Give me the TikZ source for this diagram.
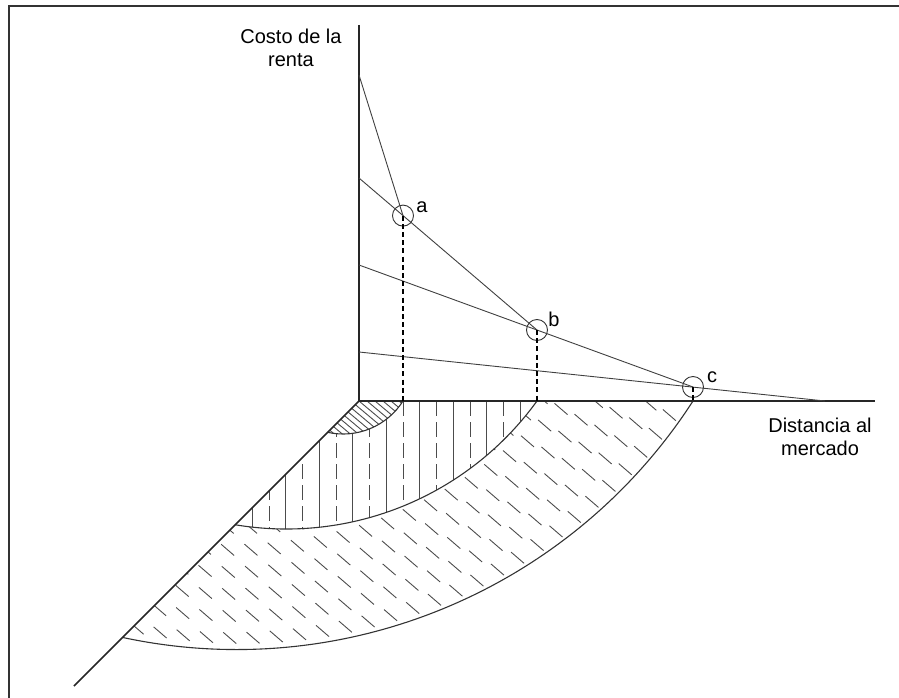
\documentclass[tikz,border=0pt]{standalone}
\usepackage{fontspec}
\setmainfont{Liberation Sans}
\usetikzlibrary{positioning}
\tikzset{
	axisline/.style={line width=0.8pt, black!85},
	rentline/.style={line width=0.45pt, black!75},
	ringline/.style={line width=0.55pt, black!80},
	dropline/.style={line width=0.6pt, black, dash pattern=on 2.5pt off 1.6pt},
	hatchline/.style={line width=0.45pt, black!70},
	pcirc/.style={draw, circle, line width=0.45pt, black!80, minimum size=10.5pt, inner sep=0pt},
	lbl/.style={font=\fontsize{10}{11.5}\selectfont, align=center, inner sep=0pt}
}

\begin{document}
\begin{tikzpicture}[x=0.5pt, y=0.5pt]
	\useasboundingbox (-359,-296) rectangle (540,401);
	% frame
	\draw[line width=0.8pt, black!80] (-350,-310) -- (-350,395) -- (560,395);

	% axes and points
	\coordinate (O) at (0,0);
	\coordinate (ytop) at (0,376);
	\coordinate (xend) at (516,0);
	\coordinate (zend) at (-285,-285);
	\coordinate (r1) at (0,326);
	\coordinate (r2) at (0,223);
	\coordinate (r3) at (0,136);
	\coordinate (r4) at (0,49);
	\coordinate (x4) at (466,0);
	\coordinate (fa) at (44,0);
	\coordinate (fb) at (178,0);
	\coordinate (fc) at (334,0);
	\coordinate (da) at (-31.3,-31.3);
	\coordinate (db) at (-123.75,-123.75);
	\coordinate (dc) at (-236,-236);

	% inner ring
	\begin{scope}
		\clip (O) -- (fa) arc[start angle=-32.35, end angle=-102.45, radius=71] -- cycle;
		\foreach \s in {-72,-64,...,50}
			\draw[hatchline] (\s,0) ++(140:80) -- ++(-40:160);
	\end{scope}

	% middle ring
	\begin{scope}
		\clip (fa) -- (fb) arc[start angle=-35.9, end angle=-99.49, radius=309.5] -- (da)
			arc[start angle=-102.45, end angle=-32.35, radius=71] -- cycle;
		\foreach \k in {-4,...,4}
			\draw[hatchline, dash pattern=on 7.5pt off 3pt] ({44+33.5*\k},0) -- ++(0,-330);
		\foreach \k in {-5,...,3}
			\draw[hatchline] ({60.75+33.5*\k},0) -- ++(0,-330);
	\end{scope}

	% outer ring
	\begin{scope}
		\clip (fb) -- (fc) arc[start angle=-32.87, end angle=-102.07, radius=543.5] -- (db)
			arc[start angle=-99.49, end angle=-35.9, radius=309.5] -- cycle;
		\foreach \k in {0,...,5} {
			\pgfmathsetmacro\rr{532-22*\k}
			\pgfmathsetmacro\dt{23.3/\rr*57.296}
			\foreach \i in {0,...,34}
				\draw[hatchline] (-122.5,295) ++({-28-\i*\dt}:\rr) ++(-6.5,5.6) -- ++(13,-11.2);
		}
	\end{scope}

	\draw[ringline] (fa) arc[start angle=-32.35, end angle=-102.45, radius=71];
	\draw[ringline] (fb) arc[start angle=-35.9, end angle=-99.49, radius=309.5];
	\draw[ringline] (fc) arc[start angle=-32.87, end angle=-102.07, radius=543.5];

	\draw[axisline] (ytop) -- (O) -- (xend);
	\draw[axisline] (O) -- (zend);

	\node[pcirc] (pa) at (44,185.4) {};
	\node[pcirc] (pb) at (178,71) {};
	\node[pcirc] (pc) at (334,14) {};

	\draw[rentline] (r1) -- (pa.center);
	\draw[rentline] (r2) -- (pb.center);
	\draw[rentline] (r3) -- (pc.center);
	\draw[rentline] (r4) -- (x4);

	\draw[dropline] (pa.center) -- (fa);
	\draw[dropline] (pb.center) -- (fb);
	\draw[dropline] (pc.center) -- (fc);

	\node[lbl] (la) at (63,194) {a};
	\node[lbl] (lb) at (195,82) {b};
	\node[lbl] (lc) at (353,24) {c};

	\node[lbl, anchor=north] (ylbl) at (-68,372) {Costo de la\\renta};
	\node[lbl, anchor=north] (xlbl) at (461,-17) {Distancia al\\mercado};
\end{tikzpicture}
\end{document}
